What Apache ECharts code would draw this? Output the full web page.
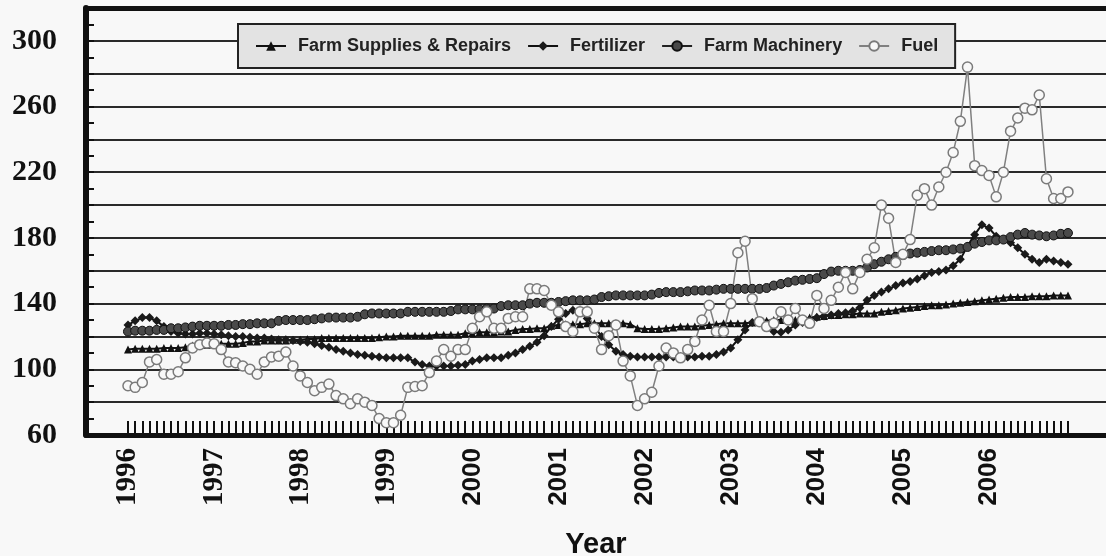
<!DOCTYPE html>
<html>
<head>
<meta charset="utf-8">
<script src="https://cdn.jsdelivr.net/npm/echarts@6/dist/echarts.min.js"></script>
<style>
html,body{margin:0;padding:0;background:#f8f8f8;}
#chart{width:1106px;height:556px;}
</style>
</head>
<body>
<div id="chart"></div>
<script>
// ---- data (monthly, Jan 1996 .. Dec 2006) ----
const yearLabels = ['1996','1997','1998','1999','2000','2001','2002','2003','2004','2005','2006'];
const yTickLabels = [60, 100, 140, 180, 220, 260, 300];
const seriesNames = ['Farm Supplies & Repairs', 'Fertilizer', 'Farm Machinery', 'Fuel'];

const supplies = [
  112,112.5,112.5,112.5,112.5,113,113,113,113.5,
  114.5,115,115,115.5,115.5,115.5,115.5,116,
  117,117,117.5,117.5,117.5,117.5,118,118,
  118.5,118.5,119,119,119,119,119,119,
  119,119,119.5,
  120,120,120.5,120.5,120.5,120.5,120.5,121,121,121,121,
  122,122,122.5,122.5,122.5,123,123,
  124,124.5,124.5,125,125,
  126.5,127,127.5,127.5,127.5,128,128,128,128,128,128,127.5,
  125,124.5,124.5,124.5,125,
  125.5,126,126,126,126.5,
  127,127.5,128,128,128,128,128.5,
  129.5,129.5,130,130,130,130,130.5,
  131.5,132,132.5,
  133,133,133.5,133.5,134,134,134,
  135,135.5,136,137,
  137.5,138,138.5,139,139,139.5,
  140,140.5,141,141.5,142,
  142.5,143,143.5,144,144,144,
  144.5,144.5,144.5,145,145,145
];

const fertilizer = [
  127,129.5,131.5,131.5,129.5,
  126,123,122,121.5,121.5,122,122,121.5,121,120.5,120,120,119.5,119,119,118.5,118,118,117.5,117,116.5,115.5,114.5,113.5,112,111,110,109,108.5,
  108,107.5,107,107,107,107,104.5,103,102,102,102,102,102.5,103,105,106,107,107,107,108.5,110,112,114,116.5,120.5,126,130.5,134,136,135,131,126,120,115,111,109,
  108,107.5,107.5,107.5,107.5,107.5,107.5,107.5,107.5,107.5,108,108,109,
  110.5,113,118,124,128.5,129,125.5,123,122.5,124,127,128.5,130,131.5,132.5,133,134,134.5,135.5,137.5,
  142,145,147,149,151,152.5,153.5,155,157,159,159.5,160.5,163,167,175,182,188,186,181,179,177,174,170,167,165,167,166,165,164
];

const machinery = [
  123,123.5,123.5,123.5,124,124,
  125,125,125.5,
  126,126.5,126.5,126.5,126.5,127,127,
  127.5,127.5,128,128,128,
  129.5,130,130,130,130,130.5,
  131,131.5,131.5,131.5,131.5,132,
  133.5,134,134,134,134,134,
  135,135,135,135,135,135,135.5,
  136.5,136.5,136.5,136.5,137,137,
  138.5,139,139,139,
  140,140.5,140.5,140.5,141,
  141.5,142,142,142,142.5,
  144,144.5,145,145,
  145,145,145,145.5,
  146.5,147,147,147,
  147.5,148,148,148,
  148.5,149,149,149,149,149,149,149.5,
  151,
  152,153,
  154,154.5,
  155,155.5,
  158,159.5,160,160,160,
  160.5,
  162,164,
  165.5,167,168.5,169.5,170.5,171,171.5,172,172.5,172.5,173,173.5,174.5,176.5,177.5,178.5,178.5,179,180.5,182,183,182,181.5,181,181.5,182.5,183
];

const fuel = [
  90,89,92,104.5,106,97,97,98.5,107,113,115,116,115.5,112,104.5,104,102,100,97,104.5,107.5,108,110.5,102,96,92,87,89,91,84,82,79,82,80,
  78,70,67.5,67.5,72,89,89.5,90,98,105,112,108,112,112,125,132,135,125,125,131,132,132,149,149,148,139,135,126,123,135,135,125,112,120.5,127,105,
  96,78,82,86,102,113,110,107,112,117,130,139,123,123,140,171,178,143,129,126,128,135,130,137,130,128,145,137,142,150,159,149,159,167,174,
  200,192,165,170,179,206,210,200,211,220,232,251,284,224,221,218,205,220,245,253,259,258,267,216,204,204,208
];

// ---- build ----
const monthIdx = supplies.map((_, i) => i);
const pairs = arr => arr.map((v, i) => [monthIdx[i], v]);
const yearTickValues = yearLabels.map((_, i) => i * 12);

const chart = echarts.init(document.getElementById('chart'), null, {renderer: 'canvas'});
const bg = '#f8f8f8';

chart.setOption({
  backgroundColor: bg,
  animation: false,
  grid: {left: 86, right: 0, top: 8, bottom: 121, containLabel: false, outerBoundsMode: 'none'},
  legend: {
    left: 238, top: 24,
    padding: [13, 17, 13, 17],
    backgroundColor: '#e3e3e3',
    borderColor: '#222',
    borderWidth: 2,
    borderRadius: 0,
    itemWidth: 30, itemHeight: 12,
    itemGap: 16,
    textStyle: {fontFamily: 'Liberation Sans', fontWeight: 'bold', fontSize: 18, color: '#222', padding: [0, 0, 0, 7]},
    data: seriesNames
  },
  xAxis: [{
    type: 'value', min: -5.85, max: 136.3,
    splitLine: {show: false},
    axisLine: {show: true, onZero: false, lineStyle: {color: '#111', width: 5}},
    axisTick: {show: true, inside: true, length: 14, customValues: monthIdx, lineStyle: {color: '#111', width: 2}},
    axisLabel: {
      show: true, rotate: 90, margin: 13, customValues: yearTickValues,
      formatter: v => { const y = yearLabels[Math.round(v / 12)]; return (Number(y) < 2000 ? '{s|' : '{a|') + y + '}'; },
      rich: {
        s: {fontFamily: 'Liberation Serif', fontWeight: 'bold', fontSize: 29, color: '#111'},
        a: {fontFamily: 'Liberation Sans', fontWeight: 'bold', fontSize: 26, color: '#111'}
      }
    },
    name: 'Year', nameLocation: 'middle', nameGap: 95,
    nameTextStyle: {fontFamily: 'Liberation Sans', fontWeight: 'bold', fontSize: 29, color: '#111'}
  }, {
    type: 'value', position: 'top', min: -5.85, max: 136.3,
    splitLine: {show: false},
    axisLine: {show: true, onZero: false, lineStyle: {color: '#111', width: 5}},
    axisTick: {show: false}, axisLabel: {show: false}
  }],
  yAxis: {
    type: 'value', min: 60, max: 320, interval: 20,
    axisLine: {show: true, onZero: false, lineStyle: {color: '#111', width: 6}},
    axisTick: {show: true, inside: true, length: 8, lineStyle: {color: '#111', width: 2}},
    minorTick: {show: true, splitNumber: 2, length: 8, lineStyle: {color: '#111', width: 2}},
    minorSplitLine: {show: false},
    axisLabel: {margin: 29, customValues: yTickLabels, fontFamily: 'Liberation Serif', fontWeight: 'bold', fontSize: 30, color: '#111'},
    splitLine: {show: true, lineStyle: {color: '#2a2a2a', width: 2}}
  },
  series: [
    {
      name: seriesNames[0], type: 'line', data: pairs(supplies),
      symbol: 'triangle', symbolSize: 8,
      lineStyle: {color: '#111', width: 2},
      itemStyle: {color: '#111'}
    },
    {
      name: seriesNames[1], type: 'line', data: pairs(fertilizer),
      symbol: 'diamond', symbolSize: 9,
      lineStyle: {color: '#111', width: 2},
      itemStyle: {color: '#1a1a1a'}
    },
    {
      name: seriesNames[2], type: 'line', data: pairs(machinery),
      symbol: 'circle', symbolSize: 9,
      lineStyle: {color: '#222', width: 2},
      itemStyle: {color: '#4a4a4a', borderColor: '#111', borderWidth: 1}
    },
    {
      name: seriesNames[3], type: 'line', data: pairs(fuel),
      symbol: 'circle', symbolSize: 10,
      lineStyle: {color: '#808080', width: 1.5},
      itemStyle: {color: bg, borderColor: '#7a7a7a', borderWidth: 1.5}
    }
  ]
});
</script>
</body>
</html>
